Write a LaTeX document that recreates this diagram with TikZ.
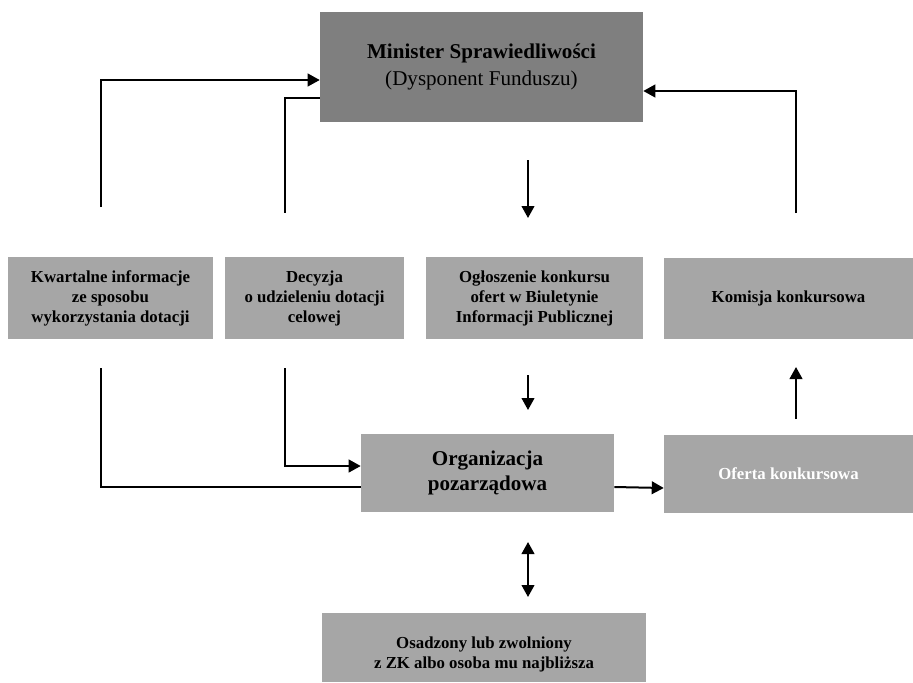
\documentclass[tikz,border=0pt]{standalone}
\usepackage{fontspec}
\setmainfont{Liberation Serif}
\usetikzlibrary{arrows.meta}
\definecolor{darkbox}{HTML}{7F7F7F}
\definecolor{lightbox}{HTML}{A6A6A6}
\tikzset{
  boxbase/.style={rectangle, inner sep=0pt, align=center, text=black},
  lbox/.style={boxbase, fill=lightbox, font=\bfseries\fontsize{12.6}{15}\selectfont},
  dbox/.style={boxbase, fill=darkbox, font=\fontsize{15.8}{20}\selectfont},
  arr/.style={line width=1.5pt, -{Triangle[length=9pt,width=9.5pt]}},
  dblarr/.style={line width=1.5pt, {Triangle[length=9pt,width=9.5pt]}-{Triangle[length=9pt,width=9.5pt]}},
  ln/.style={line width=1.5pt}
}
\begin{document}
\begin{tikzpicture}[x=0.75pt,y=-0.75pt]
\useasboundingbox (0,0) rectangle (913,682);
% boxes
\node[dbox, minimum width=242.25pt, minimum height=82.5pt] (min) at (481.5,67)
  {\textbf{Minister Sprawiedliwości}\\(Dysponent Funduszu)};
\node[lbox, minimum width=153.75pt, minimum height=61.5pt] (kw) at (110.5,298)
  {Kwartalne informacje\\ze sposobu\\wykorzystania dotacji};
\node[lbox, minimum width=134.25pt, minimum height=61.5pt] (dec) at (314.5,298)
  {Decyzja\\o udzieleniu dotacji\\celowej};
\node[lbox, minimum width=162.75pt, minimum height=61.5pt] (ogl) at (534.5,298)
  {Ogłoszenie konkursu\\ofert w Biuletynie\\Informacji Publicznej};
\node[lbox, minimum width=186.75pt, minimum height=60.75pt] (kom) at (788.5,298.5)
  {Komisja konkursowa};
\node[lbox, minimum width=189.75pt, minimum height=58.5pt,
  font=\bfseries\fontsize{15.8}{19}\selectfont] (org) at (487.5,473)
  {Organizacja\\pozarządowa};
\node[lbox, minimum width=186.75pt, minimum height=58.5pt, text=white] (ofe) at (788.5,474)
  {Oferta konkursowa};
\node[lbox, minimum width=243pt, minimum height=51.75pt] (osa) at (484,647.5) {};
\node[boxbase, font=\bfseries\fontsize{12.6}{15}\selectfont] (osat) at (484,654)
  {Osadzony lub zwolniony\\z ZK albo osoba mu najbliższa};
% free-end coordinates
\coordinate (kwtop) at (101,207);
\coordinate (kwbot) at (101,368);
\coordinate (dectop) at (285,213);
\coordinate (decbot) at (285,368);
\coordinate (a1s) at (528,160);
\coordinate (a1e) at (528,218);
\coordinate (a2s) at (528,375);
\coordinate (a2e) at (528,410);
\coordinate (a3s) at (796,419);
\coordinate (a3e) at (796,367);
\coordinate (komtop) at (796,213);
\coordinate (d1) at (528,542);
\coordinate (d2) at (528,597);
% connectors
\draw[arr] (kwtop) |- (min.west |- 0,80);
\draw[ln] (min.west |- 0,98) -| (dectop);
\draw[arr] (decbot) |- (org.west |- 0,466);
\draw[ln] (org.west |- 0,487) -| (kwbot);
\draw[arr] (a1s) -- (a1e);
\draw[arr] (a2s) -- (a2e);
\draw[arr] (org.east |- 0,487) -- (ofe.west |- 0,488);
\draw[arr] (a3s) -- (a3e);
\draw[arr] (komtop) |- (min.east |- 0,91);
\draw[dblarr] (d1) -- (d2);
\end{tikzpicture}
\end{document}
